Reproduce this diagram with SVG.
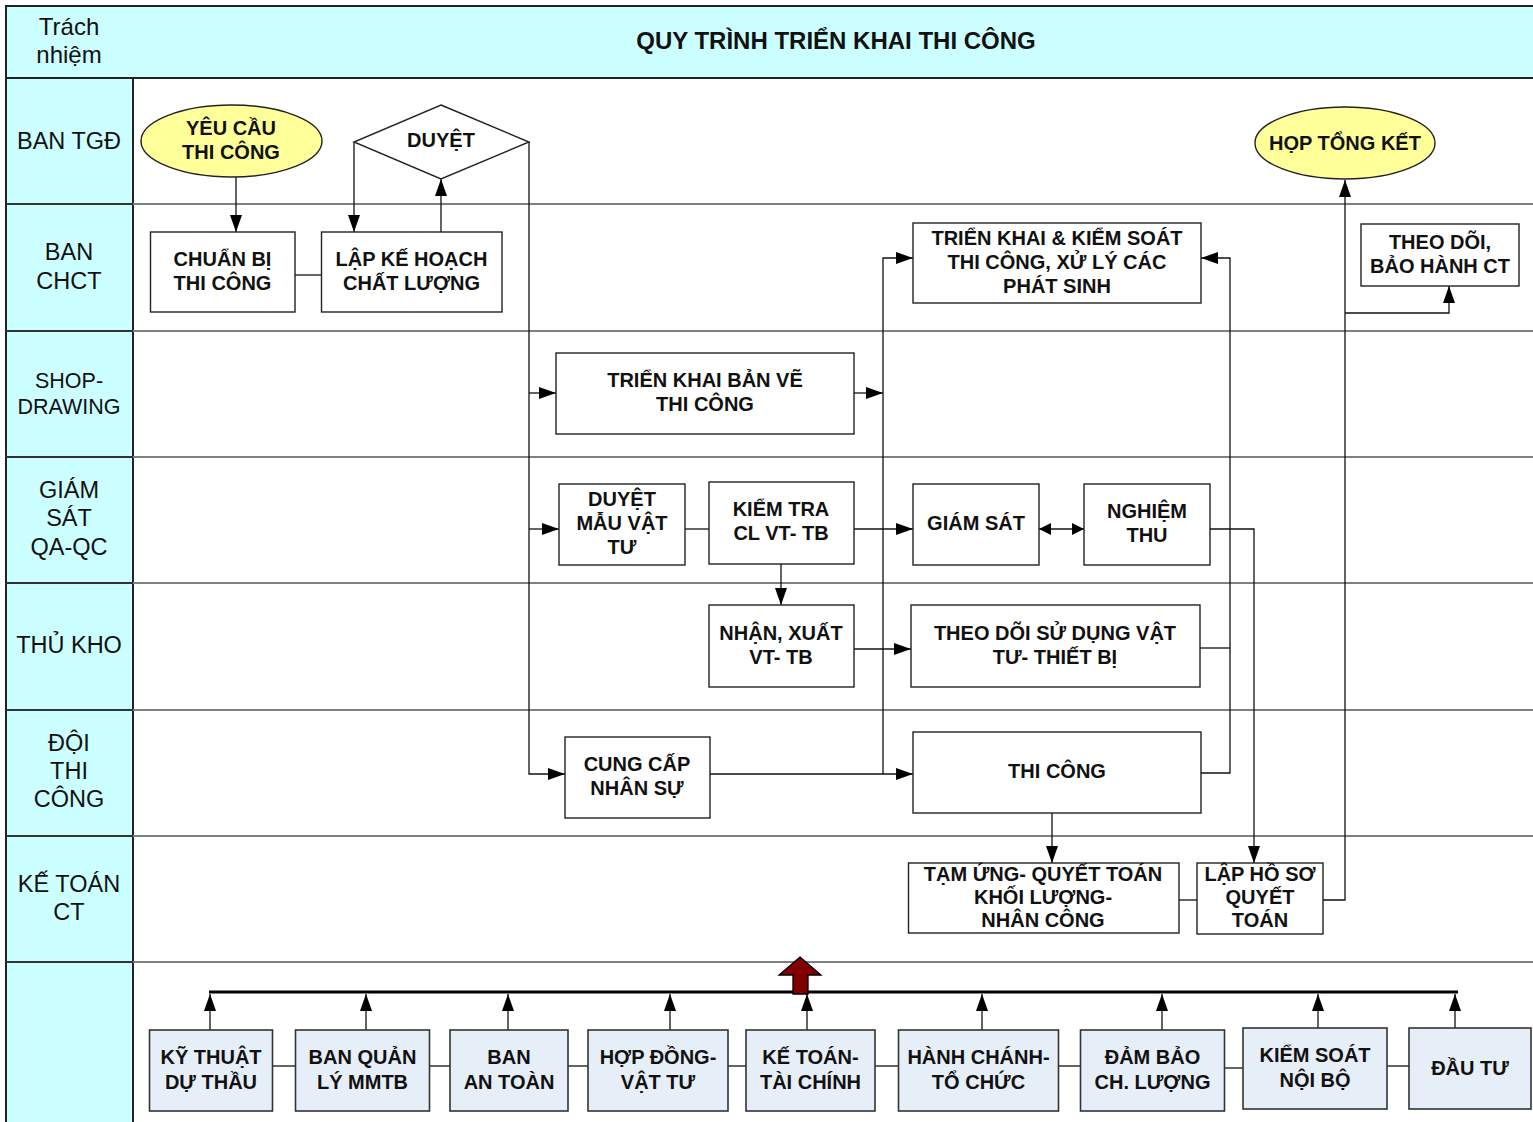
<svg xmlns="http://www.w3.org/2000/svg" width="1533" height="1122" viewBox="0 0 1533 1122">
<style>
.lane{fill:#CCFFFF;stroke:#222;stroke-width:2}
.sep{stroke:#808080;stroke-width:2}
.sepd{stroke:#333;stroke-width:2}
.lbl{font-family:"Liberation Sans",Arial,sans-serif;font-size:23.5px;fill:#111;text-anchor:middle}
.t{font-family:"Liberation Sans",Arial,sans-serif;font-size:20px;font-weight:bold;fill:#111;text-anchor:middle}
.box{fill:#fff;stroke:#222;stroke-width:1.4}
.bbox{fill:#E6EEF8;stroke:#333;stroke-width:1.6}
.oval{fill:#FFFF99;stroke:#222;stroke-width:1.4}
.c{fill:none;stroke:#111;stroke-width:1.3}
.ca{fill:none;stroke:#111;stroke-width:1.3;marker-end:url(#ah)}
</style>
<defs>
<marker id="ah" markerUnits="userSpaceOnUse" markerWidth="17" markerHeight="12" refX="17" refY="6" orient="auto">
<path d="M0,0 L17,6 L0,12 z" fill="#000"/>
</marker>
<marker id="sh" markerUnits="userSpaceOnUse" markerWidth="12" markerHeight="12" refX="12" refY="6" orient="auto-start-reverse">
<path d="M0,0 L12,6 L0,12 z" fill="#000"/>
</marker>
</defs>
<g id="lanes">
<rect x="6" y="6" width="1530" height="72" class="lane"/>
<rect x="6" y="78" width="127" height="1050" class="lane"/>
<line x1="133" y1="204" x2="1533" y2="204" class="sep"/>
<line x1="133" y1="331" x2="1533" y2="331" class="sep"/>
<line x1="133" y1="457" x2="1533" y2="457" class="sep"/>
<line x1="133" y1="583" x2="1533" y2="583" class="sep"/>
<line x1="133" y1="710" x2="1533" y2="710" class="sep"/>
<line x1="133" y1="836" x2="1533" y2="836" class="sep"/>
<line x1="133" y1="962" x2="1533" y2="962" class="sep"/>
<line x1="6" y1="204" x2="133" y2="204" class="sepd"/>
<line x1="6" y1="331" x2="133" y2="331" class="sepd"/>
<line x1="6" y1="457" x2="133" y2="457" class="sepd"/>
<line x1="6" y1="583" x2="133" y2="583" class="sepd"/>
<line x1="6" y1="710" x2="133" y2="710" class="sepd"/>
<line x1="6" y1="836" x2="133" y2="836" class="sepd"/>
<line x1="6" y1="962" x2="133" y2="962" class="sepd"/>
<text class="lbl" x="69" y="35" style="font-size:24px">Trách</text>
<text class="lbl" x="69" y="63" style="font-size:24px">nhiệm</text>
<text class="t" x="836" y="49" style="font-size:24px">QUY TRÌNH TRIỂN KHAI THI CÔNG</text>
<text class="lbl" x="69" y="149">BAN TGĐ</text>
<text class="lbl" x="69" y="260">BAN</text>
<text class="lbl" x="69" y="289">CHCT</text>
<text class="lbl" x="69" y="388" style="font-size:21.5px">SHOP-</text>
<text class="lbl" x="69" y="414" style="font-size:21.5px">DRAWING</text>
<text class="lbl" x="69" y="498">GIÁM</text>
<text class="lbl" x="69" y="526">SÁT</text>
<text class="lbl" x="69" y="555">QA-QC</text>
<text class="lbl" x="69" y="653">THỦ KHO</text>
<text class="lbl" x="69" y="751">ĐỘI</text>
<text class="lbl" x="69" y="779">THI</text>
<text class="lbl" x="69" y="807">CÔNG</text>
<text class="lbl" x="69" y="892">KẾ TOÁN</text>
<text class="lbl" x="69" y="920">CT</text>
</g>
<g id="connectors">
<path class="ca" d="M236,177 V232"/>
<path class="c" d="M295,275 H322"/>
<path class="ca" d="M441,232 V179"/>
<path class="ca" d="M354,142 V232"/>
<path class="ca" d="M529,142 V774 H565"/>
<path class="ca" d="M529,393 H556"/>
<path class="ca" d="M529,529 H559"/>
<path class="ca" d="M854,393 H883"/>
<path class="ca" d="M883,774 V258 H913"/>
<path class="ca" d="M710,774 H913"/>
<path class="c" d="M685,529 H709"/>
<path class="ca" d="M854,529 H913"/>
<path d="M1039,529 H1084" fill="none" stroke="#111" stroke-width="1.3" marker-start="url(#sh)" marker-end="url(#sh)"/>
<path class="ca" d="M781,564 V605"/>
<path class="ca" d="M854,649 H911"/>
<path class="c" d="M1200,648 H1230"/>
<path class="ca" d="M1201,773 H1230 V258 H1201"/>
<path class="ca" d="M1210,529 H1254 V863"/>
<path class="ca" d="M1052,813 V863"/>
<path class="c" d="M1179,900 H1197"/>
<path class="ca" d="M1323,900 H1345 V180"/>
<path class="ca" d="M1345,313 H1449 V286"/>
<path d="M209,992 H1458" fill="none" stroke="#000" stroke-width="3"/>
<path class="ca" d="M210,1030 V994"/>
<path class="ca" d="M366,1030 V994"/>
<path class="ca" d="M508,1030 V994"/>
<path class="ca" d="M670,1030 V994"/>
<path class="ca" d="M807,1030 V994"/>
<path class="ca" d="M982,1030 V994"/>
<path class="ca" d="M1162,1030 V994"/>
<path class="ca" d="M1318,1028 V994"/>
<path class="ca" d="M1455,1028 V994"/>
<path class="c" d="M273,1066 H295"/>
<path class="c" d="M430,1066 H450"/>
<path class="c" d="M557,1066 H588"/>
<path class="c" d="M728,1066 H746"/>
<path class="c" d="M875,1066 H899"/>
<path class="c" d="M1058,1066 H1081"/>
<path class="c" d="M1224,1068 H1243"/>
<path class="c" d="M1387,1066 H1409"/>
<polygon points="800,957 821,975 808,975 808,994 793,994 793,975 779,975" fill="#800000" stroke="#000" stroke-width="1.3"/>
</g>
<g id="n-yeucau">
<ellipse cx="231.5" cy="141" rx="90.5" ry="36" class="oval"/>
<text class="t" x="231" y="135">YÊU CẦU</text>
<text class="t" x="231" y="159">THI CÔNG</text>
</g>
<g id="n-duyet">
<polygon points="441,105 529,142 441,179 354,142" class="box"/>
<text class="t" x="441" y="147">DUYỆT</text>
</g>
<g id="n-hop">
<ellipse cx="1345" cy="143" rx="90" ry="36" class="oval"/>
<text class="t" x="1345" y="150">HỌP TỔNG KẾT</text>
</g>
<g id="n-chuanbi">
<rect x="150.5" y="232" width="144.5" height="80" class="box"/>
<text class="t" x="222.5" y="266">CHUẨN BỊ</text>
<text class="t" x="222.5" y="290">THI CÔNG</text>
</g>
<g id="n-lapkh">
<rect x="321.5" y="232" width="180.5" height="80" class="box"/>
<text class="t" x="411.5" y="266">LẬP KẾ HOẠCH</text>
<text class="t" x="411.5" y="290">CHẤT LƯỢNG</text>
</g>
<g id="n-trienkhai">
<rect x="913" y="223" width="288" height="80" class="box"/>
<text class="t" x="1057" y="245">TRIỂN KHAI &amp; KIỂM SOÁT</text>
<text class="t" x="1057" y="269">THI CÔNG, XỬ LÝ CÁC</text>
<text class="t" x="1057" y="293">PHÁT SINH</text>
</g>
<g id="n-baohanh">
<rect x="1361" y="224" width="158" height="62" class="box"/>
<text class="t" x="1440" y="249">THEO DÕI,</text>
<text class="t" x="1440" y="273">BẢO HÀNH CT</text>
</g>
<g id="n-banve">
<rect x="556" y="353" width="298" height="81" class="box"/>
<text class="t" x="705" y="387">TRIỂN KHAI BẢN VẼ</text>
<text class="t" x="705" y="411">THI CÔNG</text>
</g>
<g id="n-duyetmau">
<rect x="559" y="484" width="126" height="81" class="box"/>
<text class="t" x="622" y="506">DUYỆT</text>
<text class="t" x="622" y="530">MẪU VẬT</text>
<text class="t" x="622" y="554">TƯ</text>
</g>
<g id="n-kiemtra">
<rect x="709" y="482" width="145" height="82" class="box"/>
<text class="t" x="781" y="516">KIỂM TRA</text>
<text class="t" x="781" y="540">CL VT- TB</text>
</g>
<g id="n-giamsat">
<rect x="913" y="484" width="126" height="81" class="box"/>
<text class="t" x="976" y="530">GIÁM SÁT</text>
</g>
<g id="n-nghiemthu">
<rect x="1084" y="484" width="126" height="81" class="box"/>
<text class="t" x="1147" y="518">NGHIỆM</text>
<text class="t" x="1147" y="542">THU</text>
</g>
<g id="n-nhanxuat">
<rect x="709" y="605" width="145" height="82" class="box"/>
<text class="t" x="781" y="640">NHẬN, XUẤT</text>
<text class="t" x="781" y="664">VT- TB</text>
</g>
<g id="n-theodoivt">
<rect x="911" y="605" width="289" height="82" class="box"/>
<text class="t" x="1055" y="640">THEO DÕI SỬ DỤNG VẬT</text>
<text class="t" x="1055" y="664">TƯ- THIẾT BỊ</text>
</g>
<g id="n-cungcap">
<rect x="565" y="737" width="145" height="81" class="box"/>
<text class="t" x="637" y="771">CUNG CẤP</text>
<text class="t" x="637" y="795">NHÂN SỰ</text>
</g>
<g id="n-thicong">
<rect x="913" y="732" width="288" height="81" class="box"/>
<text class="t" x="1057" y="778">THI CÔNG</text>
</g>
<g id="n-tamung">
<rect x="908.5" y="863" width="270.5" height="70" class="box"/>
<text class="t" x="1043" y="881">TẠM ỨNG- QUYẾT TOÁN</text>
<text class="t" x="1043" y="904">KHỐI LƯỢNG-</text>
<text class="t" x="1043" y="927">NHÂN CÔNG</text>
</g>
<g id="n-lapho">
<rect x="1197" y="863" width="126" height="71" class="box"/>
<text class="t" x="1260" y="881">LẬP HỒ SƠ</text>
<text class="t" x="1260" y="904">QUYẾT</text>
<text class="t" x="1260" y="927">TOÁN</text>
</g>
<g id="n-kythuat">
<rect x="149.5" y="1030" width="123" height="81" class="bbox"/>
<text class="t" x="211" y="1064">KỸ THUẬT</text>
<text class="t" x="211" y="1089">DỰ THẦU</text>
</g>
<g id="n-mmtb">
<rect x="295.5" y="1030" width="134" height="81" class="bbox"/>
<text class="t" x="362.5" y="1064">BAN QUẢN</text>
<text class="t" x="362.5" y="1089">LÝ MMTB</text>
</g>
<g id="n-antoan">
<rect x="450" y="1030" width="118" height="81" class="bbox"/>
<text class="t" x="509" y="1064">BAN</text>
<text class="t" x="509" y="1089">AN TOÀN</text>
</g>
<g id="n-hopdong">
<rect x="588" y="1030" width="140" height="81" class="bbox"/>
<text class="t" x="658" y="1064">HỢP ĐỒNG-</text>
<text class="t" x="658" y="1089">VẬT TƯ</text>
</g>
<g id="n-ketoan">
<rect x="746" y="1030" width="129" height="81" class="bbox"/>
<text class="t" x="810.5" y="1064">KẾ TOÁN-</text>
<text class="t" x="810.5" y="1089">TÀI CHÍNH</text>
</g>
<g id="n-hanhchanh">
<rect x="898.5" y="1030" width="160" height="81" class="bbox"/>
<text class="t" x="978.5" y="1064">HÀNH CHÁNH-</text>
<text class="t" x="978.5" y="1089">TỔ CHỨC</text>
</g>
<g id="n-dambao">
<rect x="1080.5" y="1030" width="144" height="81" class="bbox"/>
<text class="t" x="1152.5" y="1064">ĐẢM BẢO</text>
<text class="t" x="1152.5" y="1089">CH. LƯỢNG</text>
</g>
<g id="n-kiemsoat">
<rect x="1243" y="1028" width="144" height="81" class="bbox"/>
<text class="t" x="1315" y="1062">KIỂM SOÁT</text>
<text class="t" x="1315" y="1087">NỘI BỘ</text>
</g>
<g id="n-dautu">
<rect x="1409" y="1028" width="122" height="81" class="bbox"/>
<text class="t" x="1470" y="1075">ĐẦU TƯ</text>
</g>
</svg>
